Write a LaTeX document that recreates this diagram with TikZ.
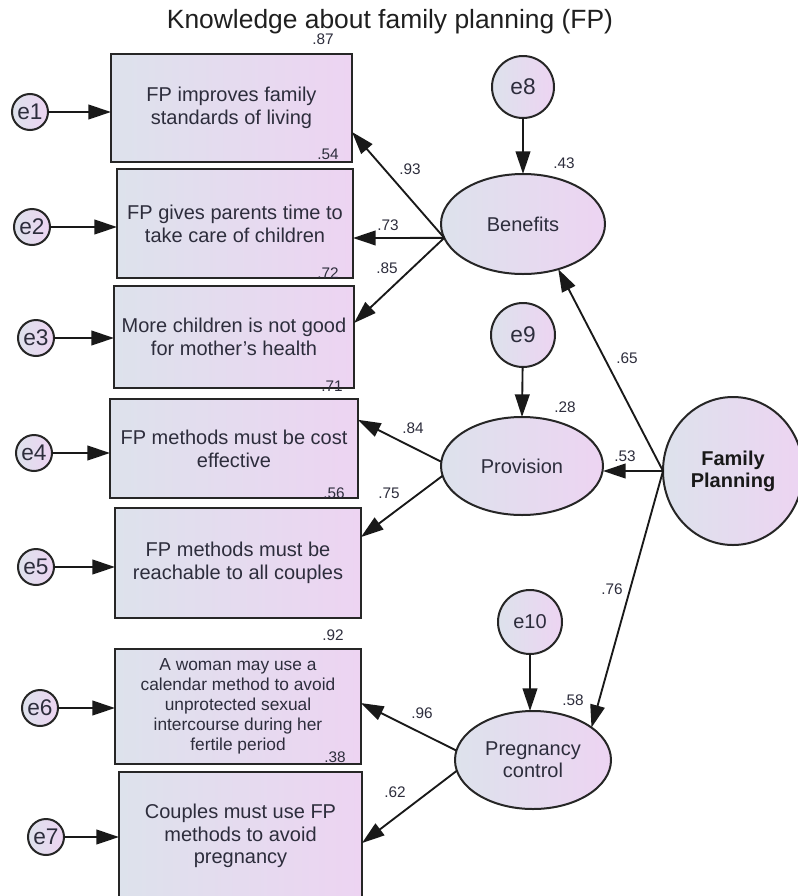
\documentclass[tikz,border=0pt]{standalone}
\usepackage{fontspec}
\setmainfont{Liberation Sans}
\usetikzlibrary{arrows.meta,calc,shapes.geometric}
\definecolor{cl}{RGB}{221,226,236}
\definecolor{cr}{RGB}{237,212,242}
\definecolor{txt}{RGB}{45,45,60}
\begin{document}
\begin{tikzpicture}[x=0.75pt,y=-0.75pt,
  ind/.style={rectangle, draw=black!85, line width=1.6pt, left color=cl, right color=cr, text=txt,
    font=\fontsize{15}{17.25}\selectfont, align=center, inner sep=0pt, outer sep=0pt},
  lat/.style={ellipse, draw=black!85, line width=1.5pt, left color=cl, right color=cr, text=txt,
    font=\fontsize{15}{16.5}\selectfont, align=center, inner sep=0pt, outer sep=0pt},
  err/.style={circle, draw=black!85, line width=1.5pt, left color=cl, right color=cr, text=txt,
    inner sep=0pt, outer sep=0pt, font=\fontsize{17}{17}\selectfont},
  lbl/.style={text=txt, font=\fontsize{11.5}{13}\selectfont, inner sep=0pt},
  arr/.style={line width=1.4pt, draw=black!90, -{Triangle[length=17pt,width=11pt]}}]
\useasboundingbox (0,0) rectangle (798,896);
\clip (0,0) rectangle (798,896);
\fill[white] (0,0) rectangle (798,896);

% title
\node[anchor=base, text=black!88, font=\fontsize{19.8}{22}\selectfont, inner sep=0pt] (title) at (390,28) {Knowledge about family planning (FP)};

% indicator boxes
\node[ind, minimum width=180.75pt, minimum height=81pt] (b1) at (231.5,108) {FP improves family\\standards of living};
\node[ind, minimum width=177pt, minimum height=81.75pt] (b2) at (235,223.5) {FP gives parents time to\\take care of children};
\node[ind, minimum width=180pt, minimum height=76.5pt] (b3) at (234,337) {More children is not good\\for mother’s health};
\node[ind, minimum width=186pt, minimum height=74.25pt] (b4) at (234,448.5) {FP methods must be cost\\effective};
\node[ind, minimum width=184.5pt, minimum height=82.5pt] (b5) at (238,563) {FP methods must be\\reachable to all couples};
\node[ind, minimum width=184.5pt, minimum height=86.25pt, font=\fontsize{13}{15}\selectfont] (b6) at (238,706.5) {A woman may use a\\calendar method to avoid\\unprotected sexual\\intercourse during her\\fertile period};
\node[ind, minimum width=182.25pt, minimum height=96pt, font=\fontsize{15}{17}\selectfont] (b7) at (240.5,836) {Couples must use FP\\methods to avoid\\pregnancy};

% error terms of indicators
\node[err, minimum size=27pt] (e1) at (30,112) {e1};
\node[err, minimum size=27pt] (e2) at (32,227) {e2};
\node[err, minimum size=27pt] (e3) at (36,338) {e3};
\node[err, minimum size=27pt] (e4) at (34,453) {e4};
\node[err, minimum size=27pt] (e5) at (36,567) {e5};
\node[err, minimum size=27pt] (e6) at (40,708) {e6};
\node[err, minimum size=27pt] (e7) at (46,837) {e7};

% latent variables
\node[lat, minimum width=123pt, minimum height=75pt] (ben) at (523,224) {Benefits};
\node[lat, minimum width=121.5pt, minimum height=73.5pt] (prov) at (522,466) {Provision};
\node[lat, minimum width=117pt, minimum height=73.5pt] (preg) at (533,760) {Pregnancy\\control};
\node[lat, minimum width=105pt, minimum height=111pt, font=\fontsize{15}{16.5}\selectfont\bfseries, text=black!90] (fp) at (733,471) {Family\\Planning};

% disturbances
\node[err, minimum size=46.5pt] (e8) at (523,87) {e8};
\node[err, minimum size=48pt] (e9) at (523,335) {e9};
\node[err, minimum size=48pt, font=\fontsize{15}{15}\selectfont] (e10) at (530,622) {e10};

% error arrows
\draw[arr] (e1) -- (b1.west |- e1);
\draw[arr] (e2) -- (b2.west |- e2);
\draw[arr] (e3) -- (b3.west |- e3);
\draw[arr] (e4) -- (b4.west |- e4);
\draw[arr] (e5) -- (b5.west |- e5);
\draw[arr] (e6) -- (b6.west |- e6);
\draw[arr] (e7) -- (b7.west |- e7);
\draw[arr] (e8) -- (ben.north);
\draw[arr] (e9) -- (prov.north);
\draw[arr] (e10) -- (preg.north -| e10);

% loadings
\draw[arr] (ben.190) -- ($(b1.north east)!0.722!(b1.south east)$);
\draw[arr] (ben.190) -- ($(b2.north east)!0.633!(b2.south east)$);
\draw[arr] (ben.190) -- ($(b3.north east)!0.363!(b3.south east)$);
\draw[arr] (prov.177) -- ($(b4.north east)!0.21!(b4.south east)$);
\draw[arr] (prov.187) -- ($(b5.north east)!0.264!(b5.south east)$);
\draw[arr] (preg.173) -- ($(b6.north east)!0.47!(b6.south east)$);
\draw[arr] (preg.188) -- ($(b7.north east)!0.555!(b7.south east)$);

% structural paths
\draw[arr] (fp.west) -- (ben.-52);
\draw[arr] (fp.west) -- (prov.east |- fp.west);
\draw[arr] (fp.west) -- (preg.29);

% numeric labels
\node[lbl] (l87) at (323,39) {.87};
\node[lbl] (l54) at (328,154) {.54};
\node[lbl] (l72) at (328,273) {.72};
\node[lbl] (l71) at (332,386) {.71};
\node[lbl] (l56) at (334,493) {.56};
\node[lbl] (l92) at (333,635) {.92};
\node[lbl] (l38) at (335,757) {.38};
\node[lbl] (l93) at (410,169) {.93};
\node[lbl] (l73) at (388,225) {.73};
\node[lbl] (l85) at (387,268) {.85};
\node[lbl] (l84) at (413,428) {.84};
\node[lbl] (l75) at (389,493) {.75};
\node[lbl] (l96) at (422,713) {.96};
\node[lbl] (l62) at (395,792) {.62};
\node[lbl] (l43) at (564,163) {.43};
\node[lbl] (l28) at (565,407) {.28};
\node[lbl] (l53) at (625,456) {.53};
\node[lbl] (l65) at (627,358) {.65};
\node[lbl] (l76) at (612,589) {.76};
\node[lbl] (l58) at (573,700) {.58};
\end{tikzpicture}
\end{document}
